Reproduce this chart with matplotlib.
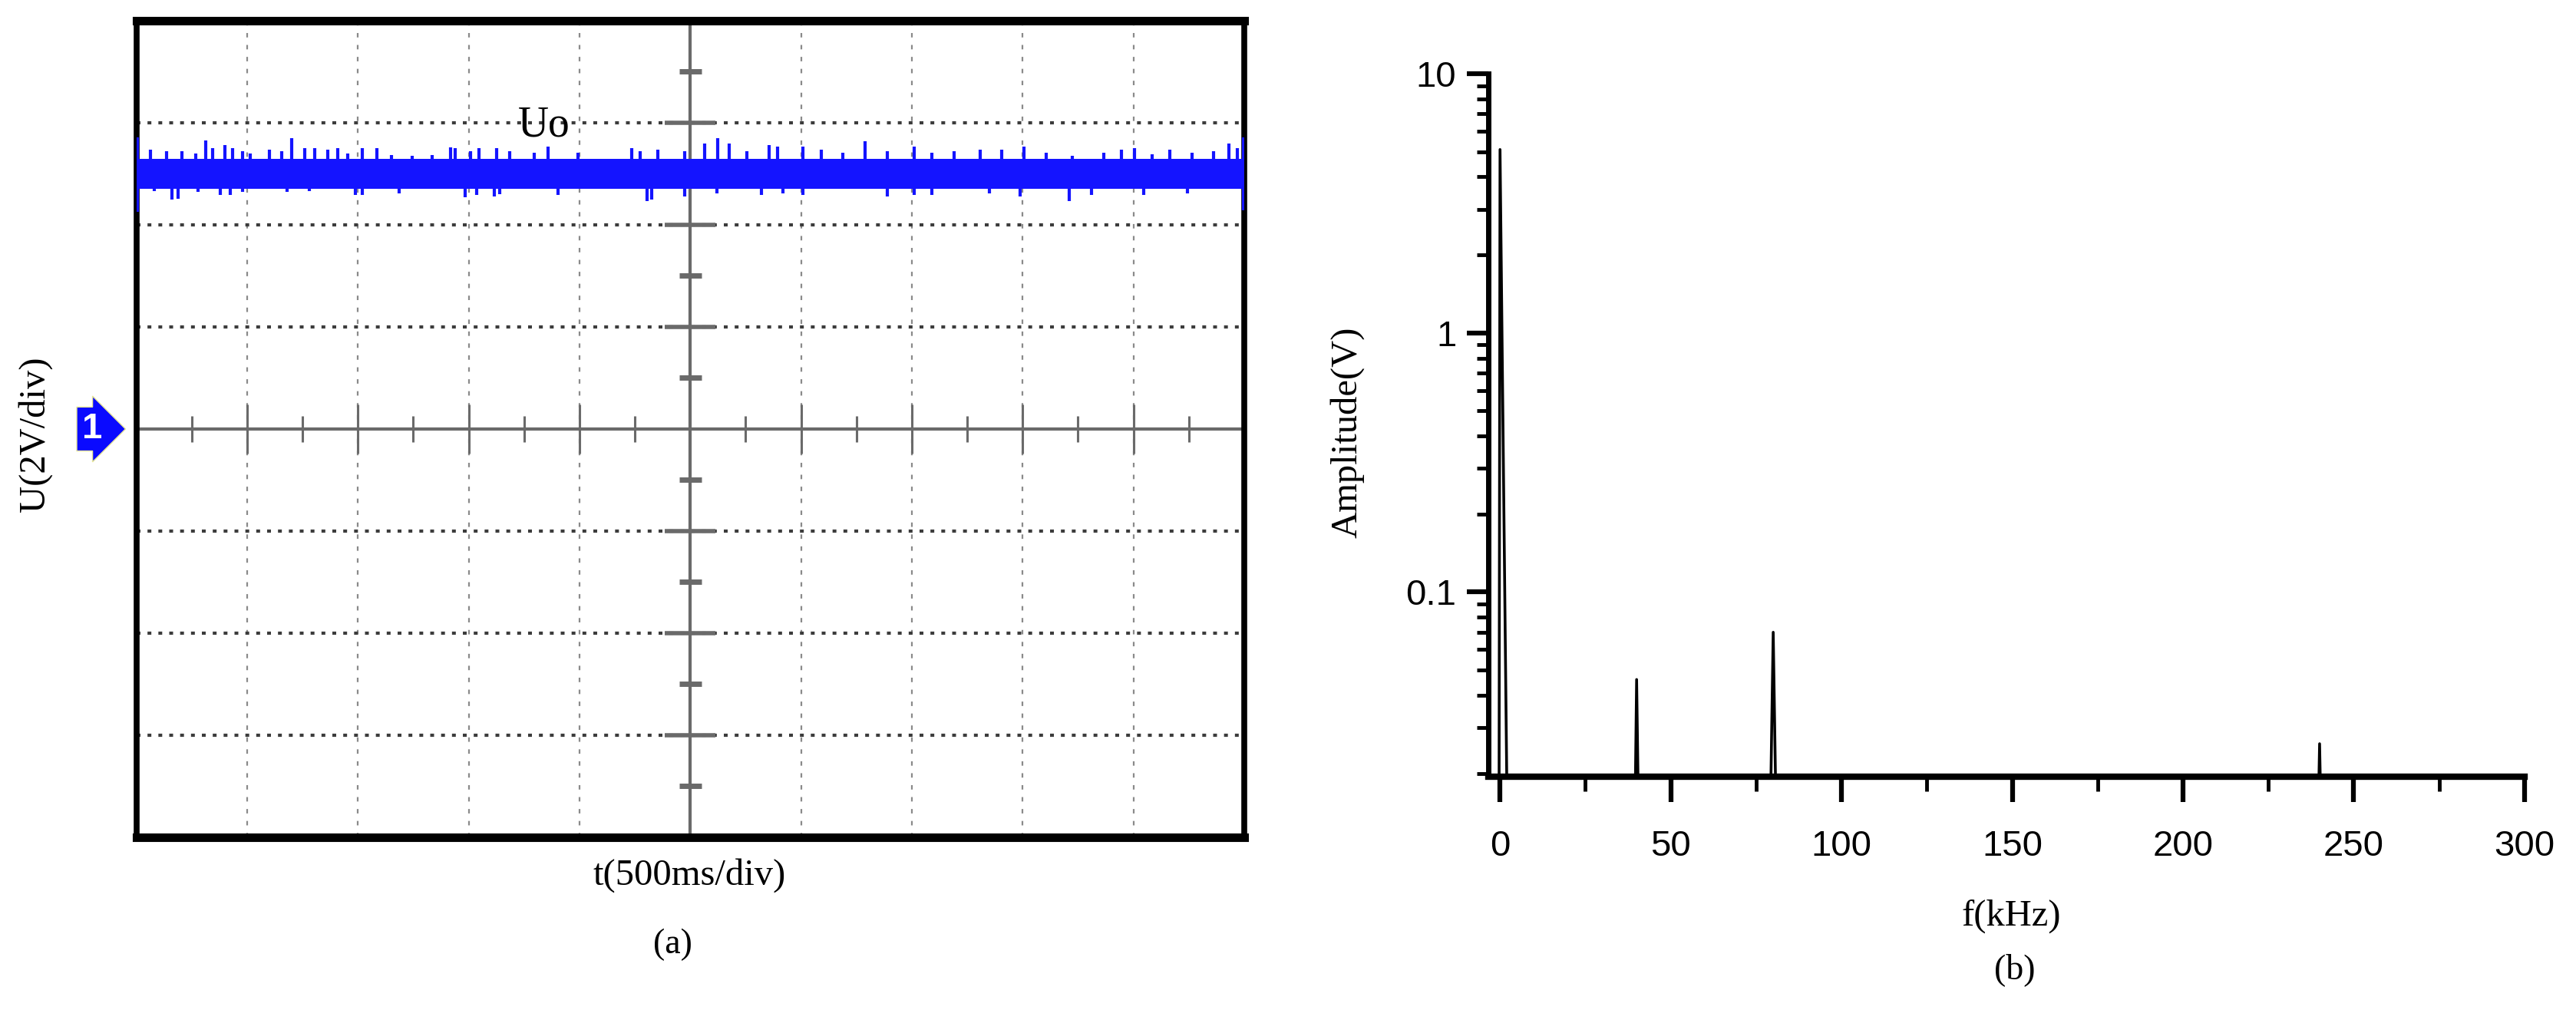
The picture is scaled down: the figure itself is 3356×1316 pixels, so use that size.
import numpy as np
import matplotlib.pyplot as plt
from matplotlib.transforms import blended_transform_factory

plt.rcParams["font.family"] = ["Liberation Serif", "DejaVu Serif"]

# ---- (a) scope trace, x in divisions (500 ms/div), y in volts (2 V/div)
trace_level = 5.0
trace_half_band = 0.30

up_spike_div = [0.01, 0.13, 0.27, 0.41, 0.54, 0.63, 0.69, 0.80, 0.87, 0.96, 1.03,
                1.20, 1.31, 1.40, 1.52, 1.61, 1.73, 1.82, 1.91, 2.04, 2.17, 2.30,
                2.49, 2.67, 2.84, 2.88, 3.02, 3.09, 3.25, 3.37, 3.59, 3.72, 3.99,
                4.47, 4.55, 4.71, 4.95, 5.13, 5.25, 5.35, 5.51, 5.71, 5.79, 6.02,
                6.18, 6.38, 6.58, 6.78, 7.02, 7.18, 7.38, 7.62, 7.81, 8.01, 8.21,
                8.45, 8.73, 8.89, 9.01, 9.17, 9.33, 9.53, 9.72, 9.86, 9.94, 9.99]
up_spike_v = [5.72, 5.47, 5.45, 5.45, 5.40, 5.65, 5.50, 5.57, 5.50, 5.45, 5.40,
              5.47, 5.45, 5.70, 5.50, 5.50, 5.47, 5.50, 5.40, 5.50, 5.50, 5.37,
              5.35, 5.37, 5.52, 5.50, 5.45, 5.50, 5.50, 5.45, 5.41, 5.53, 5.41,
              5.50, 5.44, 5.47, 5.44, 5.59, 5.70, 5.59, 5.44, 5.56, 5.53, 5.53,
              5.47, 5.41, 5.64, 5.44, 5.53, 5.41, 5.44, 5.47, 5.47, 5.53, 5.41,
              5.36, 5.41, 5.47, 5.50, 5.39, 5.47, 5.41, 5.44, 5.59, 5.50, 5.72]

down_spike_div = [0.01, 0.16, 0.32, 0.38, 0.56, 0.76, 0.85, 0.96, 1.36, 1.56, 1.98,
                  2.04, 2.37, 2.97, 3.07, 3.23, 3.28, 3.81, 4.61, 4.65, 4.95, 5.24,
                  5.64, 5.84, 6.02, 6.78, 7.02, 7.18, 7.70, 7.98, 8.42, 8.62, 9.09,
                  9.49, 9.99]
down_spike_v = [4.26, 4.66, 4.50, 4.51, 4.64, 4.59, 4.59, 4.64, 4.64, 4.66, 4.59,
                4.59, 4.61, 4.54, 4.59, 4.56, 4.60, 4.58, 4.47, 4.50, 4.55, 4.61,
                4.58, 4.61, 4.58, 4.55, 4.58, 4.58, 4.61, 4.55, 4.47, 4.58, 4.58,
                4.61, 4.28]

grid_v = [-6, -4, -2, 2, 4, 6]
grid_div = [1, 2, 3, 4, 6, 7, 8, 9]
half_ticks_div = [0.5, 1.5, 2.5, 3.5, 4.5, 5.5, 6.5, 7.5, 8.5, 9.5]
half_marks_v = [-7, -5, -3, -1, 1, 3, 5, 7]

# ---- (b) spectrum
freq_khz = [-3.4, -0.3, 0.0, 2.2, 39.4, 40.0, 40.7, 79.0, 80.0, 81.0,
            239.4, 240.0, 240.6, 300.0]
amp_v = [0.01, 0.01, 5.1, 0.01, 0.01, 0.046, 0.01, 0.01, 0.07, 0.01,
         0.01, 0.026, 0.01, 0.01]

blue = "#1414ff"
fig = plt.figure(figsize=(33.56, 13.16), dpi=100)

ax = fig.add_axes([0.0529, 0.171, 0.4301, 0.8085])
ax.set_xlim(0, 10)
ax.set_ylim(-8, 8)
ax.set_xticks([])
ax.set_yticks([])
for side in ["top", "bottom"]:
    ax.spines[side].set_linewidth(8)
for side in ["left", "right"]:
    ax.spines[side].set_linewidth(5.5)

for g in grid_div:
    ax.axvline(g, color="#8a8a8a", lw=1.6, dashes=(2.6, 4.4), zorder=1)
for g in grid_v:
    ax.axhline(g, color="#3c3c3c", lw=3, dashes=(1.2, 2.2), zorder=1)

# center axes with scope ticks
ax.axhline(0, color="#6a6a6a", lw=3, zorder=2)
ax.axvline(5, color="#6a6a6a", lw=3, zorder=2)
ax.vlines(half_ticks_div, -0.25, 0.25, color="#6a6a6a", lw=2.2, zorder=2)
ax.vlines(grid_div, -0.48, 0.48, color="#6a6a6a", lw=2.2, zorder=2)
ax.hlines(half_marks_v, 4.9, 5.1, color="#6a6a6a", lw=5, zorder=2)
ax.hlines(grid_v, 4.77, 5.23, color="#6a6a6a", lw=4, zorder=2)

# noisy output voltage trace
ax.fill_between([0, 10], trace_level - trace_half_band, trace_level + trace_half_band,
                color=blue, lw=0, zorder=3)
ax.vlines(up_spike_div, trace_level, up_spike_v, color=blue, lw=3, zorder=3)
ax.vlines(down_spike_div, down_spike_v, trace_level, color=blue, lw=3, zorder=3)

ax.text(3.68, 5.73, "Uo", fontsize=40, ha="center", va="baseline", zorder=4)

trans = blended_transform_factory(ax.transAxes, ax.transData)
ax.text(-0.04, 0, "1", transform=trans, fontsize=34, color="white",
        family="Liberation Sans", fontweight="bold", ha="center", va="center",
        bbox=dict(boxstyle="rarrow,pad=0.14", fc="#0a0aff", ec="#e6e69a", lw=1),
        clip_on=False, zorder=5)

fig.text(0.0137, 0.570, "U(2V/div)", rotation=90, fontsize=35, ha="center", va="center")
fig.text(0.2676, 0.133, "t(500ms/div)", fontsize=35, ha="center", va="center")
fig.text(0.2613, 0.0646, "(a)", fontsize=33, ha="center", va="center")

# ---- right panel
bx = fig.add_axes([0.5778, 0.231, 0.4022, 0.696])
bx.plot(freq_khz, amp_v, color="black", lw=2.6)
bx.set_yscale("log")
bx.set_xlim(-3.4, 300)
bx.set_ylim(0.0194, 10)
bx.spines["top"].set_visible(False)
bx.spines["right"].set_visible(False)
bx.spines["left"].set_linewidth(5)
bx.spines["bottom"].set_linewidth(6)
bx.set_xticks([0, 50, 100, 150, 200, 250, 300])
bx.set_xticks([25, 75, 125, 175, 225, 275], minor=True)
bx.set_yticks([0.1, 1, 10])
bx.set_yticklabels(["0.1", "1", "10"])
bx.tick_params(axis="x", which="major", length=24, width=4.5, pad=26)
bx.tick_params(axis="x", which="minor", length=14, width=3.5)
bx.tick_params(axis="y", which="major", length=20, width=4.5, pad=10)
bx.tick_params(axis="y", which="minor", length=11, width=3.5)
for lab in bx.get_xticklabels() + bx.get_yticklabels():
    lab.set_family("Liberation Sans")
    lab.set_fontsize(34)
bx.yaxis.set_minor_formatter(plt.NullFormatter())

fig.text(0.523, 0.572, "Amplitude(V)", rotation=90, fontsize=35, ha="center", va="center")
fig.text(0.7807, 0.0927, "f(kHz)", fontsize=35, ha="center", va="center")
fig.text(0.7822, 0.040, "(b)", fontsize=33, ha="center", va="center")

fig.savefig("out.png", dpi=100)
